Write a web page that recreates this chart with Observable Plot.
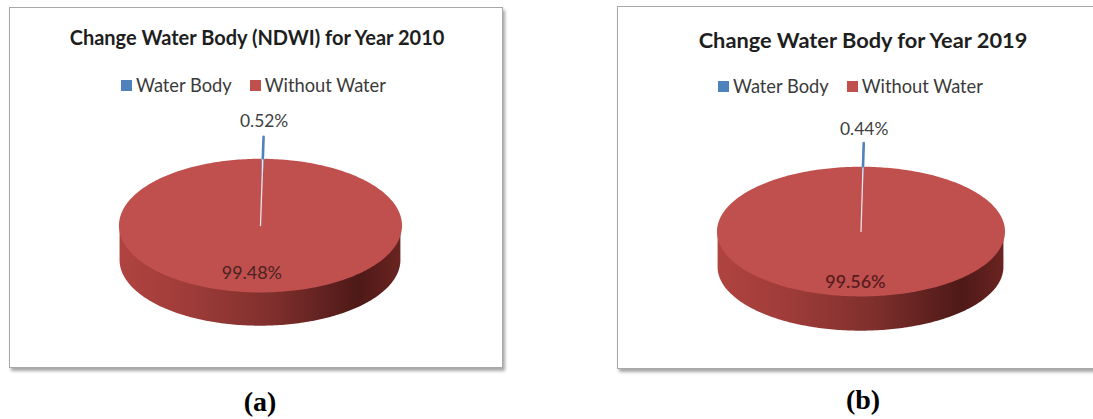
<!DOCTYPE html>
<html><head><meta charset="utf-8">
<script src="https://cdn.jsdelivr.net/npm/d3@7"></script>
<script src="https://cdn.jsdelivr.net/npm/@observablehq/plot@0.6"></script>
<style>
html,body{margin:0;padding:0;background:#fff;width:1093px;height:419px;overflow:hidden;position:relative;font-family:Lato,"Open Sans",sans-serif;}
.panel{position:absolute;box-sizing:border-box;border:1.5px solid #a8a8a8;box-shadow:2px 3px 3px rgba(0,0,0,0.35);background:#fff;overflow:hidden}
.panel svg{position:absolute;left:0;top:0;overflow:visible}
.title{position:absolute;text-align:center;font-weight:700;color:#1e1e1e;white-space:nowrap;line-height:20px}
.legend{position:absolute;white-space:nowrap;color:#3a3a3a;font-size:18.3px;line-height:20px;display:flex;align-items:center}
.sw{display:inline-block;width:11px;height:11px;margin-right:4px}
.cap{position:absolute;width:100px;text-align:center;font-family:"Liberation Serif",serif;font-weight:bold;font-size:28px;line-height:28px;color:#000}
</style></head>
<body>
<script>
const categories = ["Water Body", "Without Water"];
const values2010 = [0.52, 99.48];
const values2019 = [0.44, 99.56];
const titles = ["Change Water Body (NDWI) for Year 2010", "Change Water Body for Year 2019"];
const captions = ["(a)", "(b)"];
const colors = ["#4f81bd", "#c0504d"];

const panels = [
  {left:9, top:7, width:494, height:361, cx:251, cy:218, rx:141, ry:66, depth:35, explode:0.35, labelR:1.58, innerR:0.72,
   titleX:247, titleY:29, titleSize:20, legendX:111, legendY:77, capX:260, capY:402, bigFill:"#4a2222", bigWeight:400, bigDx:-7},
  {left:617, top:6, width:490, height:363, cx:243.5, cy:225, rx:143.5, ry:64, depth:36, explode:0.39, labelR:1.6, innerR:0.8,
   titleX:245, titleY:33, titleSize:21.8, legendX:100, legendY:79, capX:863, capY:400, bigFill:"#5a1c1f", bigWeight:600, bigDx:-4}
];
const allValues = [values2010, values2019];

panels.forEach((p, k) => {
  const values = allValues[k];
  const total = d3.sum(values);
  let cum = 0;
  const slices = values.map((v, i) => {
    const a0 = cum / total * 2 * Math.PI; cum += v;
    const a1 = cum / total * 2 * Math.PI;
    const mid = (a0 + a1) / 2;
    const e = i === 0 ? p.explode : 0;
    return {i, v, a0, a1, mid, e, dx: Math.sin(mid) * e, dy: -Math.cos(mid) * e, cat: categories[i], color: colors[i]};
  });
  const arc = (s, from, to) => {
    const n = Math.max(2, Math.ceil((to - from) / (2 * Math.PI) * 360));
    return d3.range(n + 1).map(j => { const t = from + (to - from) * j / n; return {t, x: Math.sin(t) + s.dx, y: -Math.cos(t) + s.dy}; });
  };
  const tops = slices.map(s => [{x: s.dx, y: s.dy}, ...arc(s, s.a0, s.a1), {x: s.dx, y: s.dy}]);
  const d = p.depth / p.ry;
  const sides = slices.map(s => {
    const f = Math.max(s.a0, Math.PI / 2), t = Math.min(s.a1, 3 * Math.PI / 2);
    return f < t ? arc(s, f, t).map(q => ({x: q.x, y1: q.y, y2: q.y + d})) : [];
  });
  const water = slices[0];
  // thin exploded slice drawn along its mid-angle
  const waterLine = [
    {x: Math.sin(water.mid) * water.e, y: -Math.cos(water.mid) * water.e},
    {x: Math.sin(water.mid) * (1 + water.e), y: -Math.cos(water.mid) * (1 + water.e)}
  ];
  const gap = [{x: 0, y: 0}, {x: Math.sin(water.mid), y: -Math.cos(water.mid)}];
  const labels = slices.map(s => {
    const r = s.i === 0 ? p.labelR : p.innerR;
    return {x: Math.sin(s.mid) * r, y: -Math.cos(s.mid) * r, text: d3.format(".2f")(s.v) + "%", i: s.i};
  });

  const gid = "side" + k;
  const svg = Plot.plot({
    width: p.width, height: p.height, margin: 0,
    x: {domain: [-1, 1], range: [p.cx - p.rx, p.cx + p.rx], axis: null},
    y: {domain: [-1, 1], range: [p.cy - p.ry, p.cy + p.ry], axis: null},
    marks: [
      Plot.line(waterLine, {x: "x", y: "y", stroke: colors[0], strokeWidth: 2.6}),
      Plot.areaY(sides[1], {x: "x", y1: "y1", y2: "y2", fill: `url(#${gid})`, curve: "linear"}),
      Plot.line(tops[1], {x: "x", y: "y", fill: colors[1], stroke: colors[1], strokeWidth: 2.2, curve: "linear"}),
      Plot.line(gap, {x: "x", y: "y", stroke: "#ece4ee", strokeWidth: 1.3}),
      Plot.text(labels.filter(l => l.i === 0), {x: "x", y: "y", text: "text", fill: "#404040", fontSize: 17.5, fontFamily: "Lato"}),
      Plot.text(labels.filter(l => l.i === 1), {x: "x", y: "y", text: "text", fill: p.bigFill, fontSize: 18, fontWeight: p.bigWeight, fontFamily: "Lato", dx: p.bigDx})
    ]
  });
  d3.select(svg).insert("defs", ":first-child").html(
    `<linearGradient id="${gid}" x1="0" x2="1" y1="0" y2="0">
      <stop offset="0" stop-color="#b0433f"/><stop offset="0.25" stop-color="#9e3c39"/>
      <stop offset="0.55" stop-color="#7e2f2c"/><stop offset="0.85" stop-color="#4e1917"/>
      <stop offset="1" stop-color="#6a2421"/></linearGradient>`);

  const div = document.createElement("div");
  div.className = "panel";
  Object.assign(div.style, {left: p.left + "px", top: p.top + "px", width: p.width + "px", height: p.height + "px"});
  div.appendChild(svg);
  const t = document.createElement("div");
  t.className = "title"; t.textContent = titles[k];
  Object.assign(t.style, {left: (p.titleX - 250) + "px", width: "500px", top: (p.titleY - 10) + "px", fontSize: p.titleSize + "px"});
  div.appendChild(t);
  const lg = document.createElement("div");
  lg.className = "legend";
  Object.assign(lg.style, {left: p.legendX + "px", top: (p.legendY - 10) + "px"});
  categories.forEach((c, i) => {
    const it = document.createElement("span");
    it.style.display = "inline-flex"; it.style.alignItems = "center"; it.style.marginRight = i === 0 ? "18px" : "0";
    it.innerHTML = `<span class="sw" style="background:${colors[i]}"></span><span>${c}</span>`;
    lg.appendChild(it);
  });
  div.appendChild(lg);
  document.body.appendChild(div);
  const cap = document.createElement("div");
  cap.className = "cap"; cap.textContent = captions[k];
  Object.assign(cap.style, {left: (p.capX - 50) + "px", top: (p.capY - 14) + "px"});
  document.body.appendChild(cap);
});
</script>
</body></html>
